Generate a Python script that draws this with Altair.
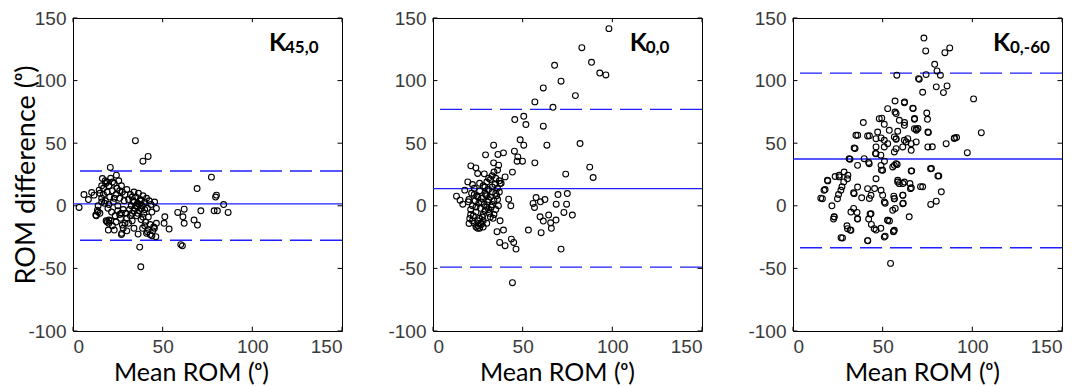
import altair as alt
import pandas as pd

# ---------------- data ----------------
x_ticks = [0, 50, 100, 150]
y_ticks = [-100, -50, 0, 50, 100, 150]

# Panel 1: K45,0
p1_x = [3.4, 34.8, 41.9, 39, 20.8, 6.1, 8.6, 10.4, 24.2, 77.2, 69.2, 80, 79.5, 84, 78.7, 80.5, 86.5, 71.3,
        58.4, 62, 61.3, 62, 67.5, 69.4, 60.1, 61, 53.6, 50.8, 51.2, 46.5, 46.5, 37.2, 37.8, 46.2, 36.3, 41.5,
        45.4, 38.8, 34, 27.2, 19.7, 23, 27.5, 20, 12.7, 13.6, 11.7, 14.6, 16.4, 18.2,
        15, 16, 17, 17.5, 18, 19, 19.5, 20, 20.5, 21, 21.5, 22, 22.5, 23, 23.5, 24, 24.5, 25, 25.5, 26, 26.5,
        27, 27.5, 28, 28.5, 29, 29.5, 30, 18.5, 19, 20, 21, 22, 24, 26, 27, 16, 17, 18, 19, 20, 22, 23, 25, 26,
        14, 15, 16, 13, 14,
        31, 31.5, 32, 32.5, 33, 33.5, 34, 34.5, 35, 35.5, 36, 36.5, 37, 37.5, 38, 38.5, 39, 39.5, 40, 40.5,
        41, 41.5, 42, 42.5, 43, 43.5, 44, 44.5, 45, 45.5, 30, 31, 32, 33, 34, 35, 36, 37, 38, 39, 40, 41, 42,
        43, 44, 33, 34, 36, 38, 40, 28, 29, 30, 27]
p1_y = [-1.3, 52, 39.4, 35.6, 30.6, 9, 5, 10.6, 24.5, 22.9, 13.8, 8.5, 7, 1, -4, -4, -5.3, -4,
        -5.3, -2.7, -8.8, -14, -11.4, -15.4, -31, -32, -18.6, -14, -8.8, -2.1, -14, -33, -48.7, -24.7, -22.6, -20.7,
        -18, -18, -18, -22, -19.4, -19.4, -15.4, -11.4, -7.4, -3.5, 8.5, 12.5, 21.8, 17.8,
        10, 6, 14, 2, 20, 11, -2, 16, 7, 22, -5, 12, 3, 18, -8, 9, 14, 0, 20, 6, -10,
        16, 11, -3, 4, 9, -6, 13, -12, -13, -14, -12, -16, -13, -7, -6, 16, 9, 4, 19, 1, 19, 6, -4, 12,
        -5, -6, 3, -8, 0,
        5, -3, 9, 0, -6, 4, 11, -2, 7, -8, 2, 10, -4, 5, -11, 0, 8, -6, 3, -13,
        6, -2, -9, 4, -15, 1, -5, -20, -17, 3, -10, -14, -8, -12, -4, 0, -6, 1, -2, -9, -16, -22, -19,
        -23, -24, 7, 3, -1, 4, -3, -18, -14, -20, -23]

# Panel 2: K0,0
p2_x = [98.1, 83, 88.4, 67.8, 93, 96.4, 71.4, 61.5, 79.4, 56.8, 66.9, 50.6, 45.6, 51.8, 61.5, 48.6, 82, 50.6,
        63.5, 33.8, 45.4, 39.3, 29.3, 36.2, 47.3, 46.9, 49.9, 56.8, 44.3, 87.4, 89.3, 74, 21.1, 23.9, 24.9,
        28.6, 19.4, 33.8, 36.6, 36, 40.2, 37.4, 13.1, 15.1, 16.6, 17.7, 19.7, 20.5, 20.1, 24.9, 26.7, 42.2,
        43.4, 37.4, 39.3, 35.7, 37.2, 40.2, 43.7, 45, 46.3, 44.3, 53.2, 55.8, 57.5, 56.6, 59.9, 62.4, 59.7,
        60.3, 61.5, 64.5, 65.6, 66, 68.6, 68.7, 69.7, 74.9, 74.5, 73, 77.7, 71.4,
        20, 21, 21.5, 22, 22.5, 23, 23.5, 24, 24.5, 25, 25.5, 26, 26.5, 27, 27.5, 28, 28.5, 29, 29.5, 30,
        30.5, 31, 31.5, 32, 32.5, 33, 33.5, 34, 34.5, 35, 35.5, 36, 36.5, 37, 22, 23, 24, 25, 26, 27, 26,
        28, 29, 30, 31, 32, 33, 34, 27, 25, 24, 23, 29, 28, 31, 30, 33, 35, 36, 37, 38, 32, 30, 34, 33, 31,
        35, 28, 26, 21, 22]
p2_y = [141.5, 126.3, 114.6, 112.2, 106, 104.5, 99.5, 94.1, 88, 83, 78.7, 71.5, 68.9, 64.9, 63.6, 52.7, 49.7,
        48.4, 48.4, 48.4, 43.6, 42.3, 40.7, 41, 39.1, 35.6, 35.6, 34.3, 26.9, 30.9, 22.6, 25.3, 31.9, 30.3,
        25.8, 25.5, 19.1, 34.3, 32.4, 28.5, 23.1, 17.8, 7.7, 4.5, 1.3, 12.5, 3.2, -10.1, -14.1, -18, -14, 5.3,
        0, -12, -19.4, -20.7, -29.3, -31.9, -26.6, -29.3, -34.6, -61.4, -19.4, 1.9, 6.6, -1.3, 3.2, 5, -8.8,
        -21.5, -12.2, -7.4, -13.6, -18, -11.4, 1.3, 9, 9.8, 1.3, -5.3, -7.4, -34.6,
        5, -3, 10, 0, -8, 14, 4, -5, 8, -12, 2, 12, -2, 6, -9, 16, 1, -4, 9, -14,
        3, 13, -6, 7, -1, 11, -10, 4, 17, -3, 8, 14, 0, 20, 17, -14, -17, -16, -18, -15, 18,
        -7, 15, -1, 5, -9, 1, -7, 3, 7, -1, 9, 10, -12, -3, 8, 15, 10, 5, 11, 18, 21, 19, 27, 24, 22,
        22, -17, -10, -7, -12]

# Panel 3: K0,-60
p3_x = [73, 74, 87.4, 84.7, 79, 80.3, 82.2, 74.2, 57.9, 70.4, 70, 79.9, 85.9, 72.3, 83.9, 100.7,
        62.2, 67, 57.5, 67.8, 49.5, 39.2, 62.2, 69.7, 68.8, 91.2, 89.9, 75.5, 36.1, 42.6, 63.1, 57.5, 77.7,
        34.6, 46, 49, 31.8, 42.2, 51, 58.1, 77.2, 66.2, 81.3, 49.3, 30.6, 23.5, 25.8, 19.4, 28.3, 27.3,
        61.3, 65.2, 72.3, 66, 82.7, 17.9, 15.5, 25.4, 33.8, 38.3, 42.6, 50, 45.5, 56.2, 61.3, 79.9, 76.8,
        61.5, 51.4, 21.7, 33.8, 35.7, 23, 22.6, 36, 42.2, 43, 53.8, 57, 64.8, 30.1, 31.9, 43.7, 46.3, 49,
        56, 51.4, 26.8, 41.7, 54.4,
        56.9, 62.1, 66.8, 52.8, 74.6, 56.9, 48.1, 59.3, 67.7, 75, 50.9, 62.1, 67.7, 68.7, 47.2, 53.7, 58.4,
        75.2, 105, 90.1, 49.1, 57.5, 64, 68.7, 85.4, 52.8, 75.2, 61.2, 65.9, 46.3, 97.2, 56.5,
        35.1, 41.6, 46.3, 50.9, 56.5, 62.1, 65.9, 34.1, 46.3, 50.9, 57.5, 31.3, 39.7, 42.5, 36, 49.1, 56.5,
        28.5, 50, 25.7, 30.4, 19.2, 46.3, 58.4, 36, 41.6, 49.1, 26.7, 17.3, 62.1, 16.4, 24.8, 34.1, 43.5,
        50.9, 56.5, 22.9, 32.3, 36, 43.5, 52.8, 30.4, 32.3, 45.3, 50.9, 27.6, 41.6, 56.5,
        65.9, 76.7, 80.8, 71.1, 65.5, 61.2, 61.2, 56.5, 55.6, 52.8, 56.1, 57.5, 55.6, 58.4, 59.3]
p3_y = [134, 123.7, 126.1, 122.3, 113, 107.7, 104.3, 104.8, 104.3, 101, 101.6, 95, 95.7, 90.7, 90.4, 85.4,
        83, 77.7, 73.7, 69.7, 70, 66.5, 66.5, 61.7, 60.4, 54.5, 53.7, 58.5, 56.4, 55.9, 51, 53.2, 47.1,
        45.7, 41.8, 40.4, 37.2, 34.6, 35.6, 33, 29.8, 27.9, 23.9, 28.5, 24.5, 23.4, 23.1, 19.9, 19.1, 15.2,
        17.8, 17.8, 15.2, 14.4, 11.2, 13, 6.1, 9, 10.4, 6.4, 5.9, 8.5, 13.8, 7.7, 8.5, 3.7, 1.1,
        2.1, 2.1, 0, -2.1, -5.3, -8.8, -10.6, -10.6, -10.6, -6.6, -12.2, -2.1, -8.8, -16, -19.4, -14.9, -19.4, -18,
        -20.7, -24.2, -25.5, -27.9, -46,
        83.7, 82.3, 78, 77.6, 74.1, 74.9, 69.6, 68.3, 69.1, 69.1, 65.1, 64.3, 61.6, 61.1, 58.9, 60.3, 59.5,
        58.9, 58.4, 54.2, 54.2, 53.6, 53.6, 51, 49.6, 49.6, 47, 47, 44.3, 47, 42.4, 43,
        56.3, 55.8, 53.6, 52.3, 55, 52.3, 49.6, 46.2, 41.6, 47, 45.6, 37.6, 37.6, 33.6, 32.3, 32.3, 32.3,
        27, 28.4, 24.4, 21.6, 20.4, 21.6, 19, 15, 13.7, 12.4, 12.4, 12.4, 19, 5.7, 5.7, 9.7, 8.4,
        3, 5.7, -8.9, -5, -10.3, -6.3, -11.6, -18.3, -19.6, -18.3, -25, -25.7, -27.8, -19.6,
        27.8, 29.6, 23.8, 15.3, 13.7, 8.4, 1.7, 5.7, -3.6, -11.6, -20.4, 33.6, 31, 20.4, 17.7]

# mean difference and limits of agreement (mean, lower, upper)
p1_lines = [1.5, -27.5, 27.8]
p2_lines = [13.7, -49, 77]
p3_lines = [37.4, -33.5, 106]

labels_main = ["K", "K", "K"]
labels_sub = ["45,0", "0,0", "0,-60"]
label_x = [109.3, 109.7, 111.5]
sub_x = [118.2, 118.6, 121.0]
label_y = 123.6

X_TITLE = "Mean ROM (ᵒ)"
Y_TITLE = "ROM difference (ᵒ)"
x_title_pos = [118, 124, 129]

BLUE = "#1f1fff"


def panel(xs, ys, lines, i, show_y_title):
    xscale = alt.Scale(domain=[0, 150], nice=False, zero=False)
    yscale = alt.Scale(domain=[-100, 150], nice=False, zero=False)
    xaxis = alt.Axis(values=x_ticks, title=X_TITLE, ticks=False, domain=False, grid=False,
                     labelPadding=6, titlePadding=4, titleFontSize=25, titleX=x_title_pos[i],
                     labelExpr="'' + datum.value")
    yaxis = alt.Axis(values=y_ticks, title=Y_TITLE if show_y_title else None, ticks=False,
                     domain=False, grid=False, labelPadding=7, titlePadding=-13, titleFontSize=27,
                     labelExpr="'' + datum.value")
    X = alt.X("x:Q", scale=xscale, axis=xaxis)
    Y = alt.Y("y:Q", scale=yscale, axis=yaxis)

    df = pd.DataFrame({"x": xs, "y": ys})
    pts = alt.Chart(df).mark_point(shape="circle", filled=False, color="black",
                                   size=34, strokeWidth=1.1, opacity=1).encode(x=X, y=Y)

    mean_df = pd.DataFrame({"y": [lines[0]]})
    mean_rule = alt.Chart(mean_df).mark_rule(color=BLUE, strokeWidth=1.3).encode(y=Y)
    loa_df = pd.DataFrame({"y": [lines[1], lines[2]]})
    loa_rule = alt.Chart(loa_df).mark_rule(color=BLUE, strokeWidth=1.3,
                                           strokeDash=[22, 8]).encode(y=Y)

    # inward tick marks on all four sides (MATLAB-style box)
    rows = []
    for v in x_ticks:
        rows.append({"x": v, "x2": v, "y": -100, "y2": -96.6})
        rows.append({"x": v, "x2": v, "y": 150, "y2": 146.6})
    for v in y_ticks:
        rows.append({"x": 0, "x2": 2.5, "y": v, "y2": v})
        rows.append({"x": 150, "x2": 147.5, "y": v, "y2": v})
    tick_df = pd.DataFrame(rows)
    ticks = alt.Chart(tick_df).mark_rule(color="black", strokeWidth=1).encode(
        x=X, x2="x2:Q", y=Y, y2="y2:Q")

    main_df = pd.DataFrame({"x": [label_x[i]], "y": [label_y], "t": [labels_main[i]]})
    main_txt = alt.Chart(main_df).mark_text(font="Lato", fontWeight="bold", fontSize=25,
                                            align="left", baseline="alphabetic",
                                            color="black").encode(x=X, y=Y, text="t:N")
    sub_df = pd.DataFrame({"x": [sub_x[i]], "y": [label_y], "t": [labels_sub[i]]})
    sub_txt = alt.Chart(sub_df).mark_text(font="Lato", fontWeight="bold", fontSize=17,
                                          align="left", baseline="alphabetic", dy=2,
                                          color="black").encode(x=X, y=Y, text="t:N")

    return alt.layer(loa_rule, mean_rule, pts, ticks, main_txt, sub_txt).properties(
        width=269, height=313)


c1 = panel(p1_x, p1_y, p1_lines, 0, True)
c2 = panel(p2_x, p2_y, p2_lines, 1, False)
c3 = panel(p3_x, p3_y, p3_lines, 2, False)

chart = alt.hconcat(c1, c2, c3, spacing=91, bounds="flush").properties(
    padding={"left": 4, "top": 0, "right": 0, "bottom": 0}
).configure_view(stroke="black", strokeWidth=1).configure_axis(
    labelFont="Liberation Sans", labelFontSize=19, labelColor="#3a3a3a",
    titleFont="Lato", titleFontWeight="normal", titleColor="black"
)

chart.save("out.html", embed_options={"renderer": "svg", "actions": False})
